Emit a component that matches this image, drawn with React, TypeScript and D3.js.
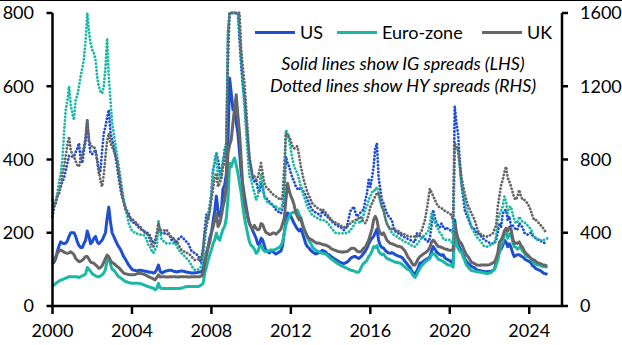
import React from "react";
import * as d3 from "d3";

// Monthly observations, starting January 2000 (basis points)
const START_YEAR = 2000;

const usIG = [
  115,120,130,150,165,175,172,170,172,178,190,200, 200,
  200,190,175,165,160,160,170,180,205,190,170,175,
  185,190,175,170,175,180,190,200,240,270,230,200,
  190,180,170,162,155,145,135,128,120,112,106,100,
  98,97,96,97,98,97,96,95,94,93,92,92,
  90,92,100,112,95,90,92,95,96,97,98,97,
  95,94,93,94,95,96,95,94,92,92,91,90,
  90,91,91,92,93,94,100,125,140,160,185,200,230,
  260,300,260,245,260,320,330,360,450,622,580,536,
  540,500,472,420,363,330,300,271,245,225,217,205,
  195,185,170,165,185,180,165,150,148,145,150,150,
  145,142,145,148,150,165,199,230,254,250,245,235,
  225,217,210,205,210,199,185,170,162,158,152,148,
  145,142,144,146,148,152,150,148,142,140,136,133,130,
  127,124,121,119,117,116,118,120,124,130,133,135,
  135,132,130,133,138,144,150,158,170,178,185,190,
  200,210,180,165,160,158,152,148,145,144,146,144,
  140,138,136,135,133,128,122,116,110,105,96,90,
  88,95,105,117,118,122,125,128,130,135,150,162,
  155,148,144,140,138,140,132,128,126,124,120,118,
  235,195,170,158,150,140,130,122,117,113,108,106,104,
  100,98,97,96,95,94,93,94,94,95,97,100,
  120,130,150,155,165,180,175,162,170,160,145,135,
  138,140,140,136,134,130,126,124,122,118,110,107,
  102,100,98,96,92,89,88,86,
];

const ezIG = [
  53,58,62,65,68,71,72,74,76,78,80,80, 80,
  80,80,79,78,80,82,84,88,105,100,95,88,
  85,82,80,80,82,85,90,100,126,130,115,100,
  98,92,85,80,77,74,70,67,66,64,63,62,
  62,62,62,62,61,60,58,56,54,53,51,50,
  48,44,48,62,50,48,48,48,48,48,48,48,
  48,48,48,48,48,49,50,52,53,53,53,53,
  53,53,53,53,55,58,62,90,107,125,140,153,170,
  180,199,185,180,195,210,217,240,290,390,380,395,
  404,385,363,335,308,270,240,217,195,175,165,162,
  155,144,148,162,165,155,150,148,150,152,153,153,
  153,155,158,160,165,175,199,220,235,245,253,255,
  255,260,262,250,240,226,210,199,188,178,171,162,
  155,153,150,148,146,144,143,142,138,134,130,127,123,
  120,117,114,111,109,107,105,103,100,98,97,96,
  94,92,93,100,110,117,120,125,135,140,150,162,
  160,165,150,144,140,142,135,130,128,126,124,122,
  120,119,118,117,114,110,106,102,99,97,90,82,
  78,85,95,103,110,115,120,124,126,130,140,144,
  140,135,128,126,124,122,118,115,112,112,110,106,
  200,170,158,150,148,135,125,112,107,102,97,96,95,
  94,93,93,92,91,90,89,89,90,92,96,100,
  112,125,150,165,175,199,205,185,195,200,175,162,
  160,155,160,158,150,145,138,135,134,130,122,117,
  115,112,112,110,108,107,107,106,
];

const ukIG = [
  117,125,135,145,150,153,150,147,145,144,145,148, 145,
  140,130,125,121,122,125,130,135,135,128,120,118,
  117,112,108,103,105,110,120,130,139,135,125,118,
  117,112,108,105,100,95,90,88,87,86,85,85,
  85,86,88,89,89,88,87,85,83,80,78,76,
  74,71,78,85,79,80,80,80,79,79,80,80,
  80,80,79,79,80,80,80,80,80,79,79,80,
  80,80,80,80,80,82,90,115,144,160,175,200,215,
  235,253,217,225,245,271,290,330,417,440,454,500,
  540,577,520,472,400,320,285,260,240,225,215,210,
  220,212,208,210,225,222,210,200,199,195,196,199,
  199,196,200,205,210,225,240,290,335,315,300,290,
  275,255,244,235,240,220,210,200,189,185,182,180,
  176,173,171,172,170,168,167,166,164,162,158,155,153,
  152,150,148,148,147,148,148,149,152,156,158,158,
  155,150,148,148,152,158,160,170,180,195,210,235,
  245,235,210,199,195,200,190,180,175,171,170,168,
  166,164,163,162,160,155,150,140,132,126,118,112,
  112,120,130,135,138,142,145,148,153,160,175,180,
  175,168,162,162,160,158,156,155,153,152,152,153,
  225,200,185,175,171,160,150,140,135,128,120,118,116,
  112,112,111,112,112,112,112,112,113,115,118,120,
  130,145,175,180,190,205,212,205,215,210,185,171,
  172,171,175,165,160,150,144,140,135,130,127,126,
  122,118,117,115,113,112,110,110,
];

const usHY = [
  488,543,560,600,620,652,680,700,740,780,820,816, 816,
  816,840,860,889,800,780,850,900,1016,900,834,830,
  840,852,800,725,740,850,943,980,1030,1071,950,907,
  870,820,761,700,640,597,570,540,520,506,480,460,
  455,452,440,430,420,415,410,405,400,397,380,360,
  342,345,380,415,405,397,395,397,397,390,380,360,
  370,342,350,365,375,379,370,360,350,342,320,300,
  295,288,282,275,250,233,306,420,500,470,520,620,743,
  780,834,800,725,700,780,852,880,1490,1600,1600,1600,
  1600,1600,1600,1450,1308,1200,1126,1000,900,816,750,700,
  680,689,640,620,670,650,598,590,580,570,560,550,
  540,525,520,510,506,540,600,816,780,761,725,700,
  680,652,640,634,650,634,620,600,580,560,540,525,
  515,510,506,500,490,520,505,495,488,480,470,460,452,
  445,440,433,430,425,415,420,440,480,520,530,543,
  510,488,500,510,520,525,580,616,689,650,700,761,
  860,889,700,640,580,560,530,506,490,480,470,430,
  410,400,397,390,385,379,375,370,365,361,355,350,
  350,397,390,380,379,375,365,361,350,370,440,525,
  480,452,440,430,450,433,420,430,420,415,410,400,
  1089,1000,943,800,670,600,525,500,480,455,433,425,420,
  400,397,390,380,370,361,355,350,345,342,340,342,
  360,400,452,430,506,520,525,470,490,433,440,430,
  415,420,452,440,430,400,397,390,395,400,385,379,
  370,365,361,355,350,345,342,342,
];

const ezHY = [
  543,560,579,620,680,725,800,950,1071,1120,1198,1100, 1050,
  1016,1126,1150,1200,1253,1300,1350,1450,1600,1500,1435,1400,
  1380,1344,1250,1198,1170,1162,1200,1300,1462,1250,1126,1000,
  943,880,820,761,700,640,579,540,500,452,430,410,
  405,397,395,393,390,388,388,380,360,330,324,300,
  290,310,324,470,400,361,355,345,342,342,342,342,
  342,342,330,310,300,288,280,270,260,251,240,220,
  205,197,198,200,208,215,260,350,433,500,560,616,720,
  800,834,689,700,750,798,830,900,1490,1600,1600,1600,
  1600,1600,1600,1500,1350,1217,1080,943,820,707,689,650,
  616,579,600,650,725,650,598,580,565,561,555,550,
  545,543,535,530,525,560,616,962,943,900,852,800,
  761,740,725,690,652,625,598,570,545,525,510,495,
  490,488,480,475,470,470,468,465,455,445,433,420,410,
  400,397,397,397,397,397,397,400,405,415,425,440,
  455,470,460,452,470,500,530,543,580,600,620,634,
  630,650,616,570,540,525,480,450,430,415,400,390,
  385,379,372,368,361,356,350,345,342,338,330,325,
  324,335,345,361,370,380,390,397,410,450,506,480,
  460,433,420,400,390,370,361,361,361,361,350,335,
  870,860,852,760,670,620,579,540,500,470,433,415,400,
  380,370,361,350,335,324,324,325,330,335,342,345,
  380,470,500,520,543,598,570,506,540,543,500,470,
  452,460,488,470,460,455,452,440,430,420,397,380,
  370,361,360,360,361,361,365,370,
];

const ukHY = [
  579,543,570,600,616,660,720,761,820,880,925,850, 830,
  816,790,770,761,800,834,870,930,1016,907,880,871,
  871,850,790,743,680,652,720,816,900,943,889,870,
  850,820,798,740,680,616,570,525,510,490,480,470,
  470,460,450,440,433,420,410,400,397,380,360,330,
  324,361,400,452,415,415,415,410,415,400,390,370,
  370,361,350,340,320,306,300,295,290,288,280,270,
  260,251,253,255,262,269,320,400,433,480,520,579,640,
  700,725,652,670,700,761,780,850,1308,1600,1600,1600,
  1600,1600,1600,1600,1400,1300,1217,1080,943,800,761,700,
  707,690,700,740,780,720,670,650,640,634,620,610,
  605,598,590,585,580,600,761,943,930,925,900,871,
  860,871,871,820,761,720,680,652,620,600,580,560,
  550,543,535,530,525,530,520,510,500,488,475,465,460,
  455,452,445,440,433,430,430,435,440,452,460,465,
  470,470,480,488,470,460,452,470,500,540,560,580,
  600,616,616,580,543,520,480,450,433,425,420,415,
  415,415,410,400,397,395,390,385,380,379,379,379,
  379,380,385,395,410,440,470,520,580,640,620,600,
  580,560,543,540,535,525,520,515,510,506,495,470,
  889,870,853,780,707,660,616,580,550,530,506,490,470,
  440,410,397,390,385,380,379,380,385,390,397,420,
  440,543,600,660,689,730,761,700,680,652,620,590,
  580,600,634,600,580,580,570,560,543,520,490,470,
  470,460,452,440,430,415,405,397,
];

const seriesNames = ["US", "Euro-zone", "UK"];
const seriesColors = ["#1f4fd1", "#1cb8a6", "#666666"];
const igSeries = [usIG, ezIG, ukIG];
const hySeries = [usHY, ezHY, ukHY];

const leftTicks = [0, 200, 400, 600, 800];
const rightTicks = [0, 400, 800, 1200, 1600];
const yearTicks = [2000, 2004, 2008, 2012, 2016, 2020, 2024];
const noteLines = [
  "Solid lines show IG spreads (LHS)",
  "Dotted lines show HY spreads (RHS)",
];

const FONT = "Lato, 'Open Sans', sans-serif";

export default function App() {
  const W = 622;
  const H = 345;
  const left = 52.5;
  const right = 562;
  const top = 13;
  const bottom = 306;

  const x = d3.scaleLinear().domain([2000, 2025.65]).range([left, right]);
  const yL = d3.scaleLinear().domain([0, 800]).range([bottom, top]);
  const yR = d3.scaleLinear().domain([0, 1600]).range([bottom, top]);

  const mkLine = (y: d3.ScaleLinear<number, number>) =>
    d3
      .line<number>()
      .x((_, i) => x(START_YEAR + i / 12))
      .y((d) => y(d));

  const legendX = [255, 337, 482];

  return (
    <svg
      width={W}
      height={H}
      style={{ position: "absolute", left: 0, top: 0, background: "#fff" }}
      fontFamily={FONT}
    >
      <rect x={0} y={0} width={W} height={H} fill="#fff" />
      <line x1={0} x2={W} y1={0.5} y2={0.5} stroke="#000" strokeWidth={1} />

      {/* IG solid lines */}
      {igSeries.map((s, k) => (
        <path
          key={"ig" + k}
          d={mkLine(yL)(s) || ""}
          fill="none"
          stroke={seriesColors[k]}
          strokeWidth={3}
          strokeLinejoin="round"
        />
      ))}
      {/* HY dotted lines */}
      {hySeries.map((s, k) => (
        <path
          key={"hy" + k}
          d={mkLine(yR)(s) || ""}
          fill="none"
          stroke={seriesColors[k]}
          strokeWidth={2.8}
          strokeDasharray="0.1 3.4"
          strokeLinecap="round"
          strokeLinejoin="round"
        />
      ))}

      {/* left axis */}
      <line x1={left} x2={left} y1={top} y2={bottom} stroke="#000" strokeWidth={2.5} />
      {leftTicks.map((t) => (
        <g key={"l" + t}>
          <line x1={left - 6} x2={left} y1={yL(t)} y2={yL(t)} stroke="#000" strokeWidth={2.5} />
          <text x={34} y={yL(t)} dy="0.36em" textAnchor="end" fontSize={18} fill="#000">
            {t}
          </text>
        </g>
      ))}

      {/* right axis */}
      <line x1={right} x2={right} y1={top} y2={bottom} stroke="#000" strokeWidth={2.5} />
      {rightTicks.map((t) => (
        <g key={"r" + t}>
          <line x1={right} x2={right + 6} y1={yR(t)} y2={yR(t)} stroke="#000" strokeWidth={2.5} />
          <text x={580} y={yR(t)} dy="0.36em" textAnchor="start" fontSize={18} fill="#000">
            {t}
          </text>
        </g>
      ))}

      {/* bottom axis */}
      <line x1={left} x2={right} y1={bottom} y2={bottom} stroke="#000" strokeWidth={2.5} />
      {yearTicks.map((t) => (
        <g key={"x" + t}>
          <line x1={x(t)} x2={x(t)} y1={bottom} y2={bottom + 8} stroke="#000" strokeWidth={2.5} />
          <text x={x(t)} y={337} textAnchor="middle" fontSize={18} fill="#000">
            {t}
          </text>
        </g>
      ))}

      {/* legend */}
      {seriesNames.map((n, k) => (
        <g key={"lg" + k}>
          <line
            x1={legendX[k]}
            x2={legendX[k] + 40}
            y1={32.5}
            y2={32.5}
            stroke={seriesColors[k]}
            strokeWidth={3}
          />
          <text x={legendX[k] + 45} y={32.5} dy="0.36em" fontSize={18} fill="#000">
            {n}
          </text>
        </g>
      ))}

      {/* notes */}
      {noteLines.map((s, i) => (
        <text
          key={"n" + i}
          x={403}
          y={70 + i * 22}
          textAnchor="middle"
          fontSize={18}
          fontStyle="italic"
          fill="#000"
        >
          {s}
        </text>
      ))}
    </svg>
  );
}
